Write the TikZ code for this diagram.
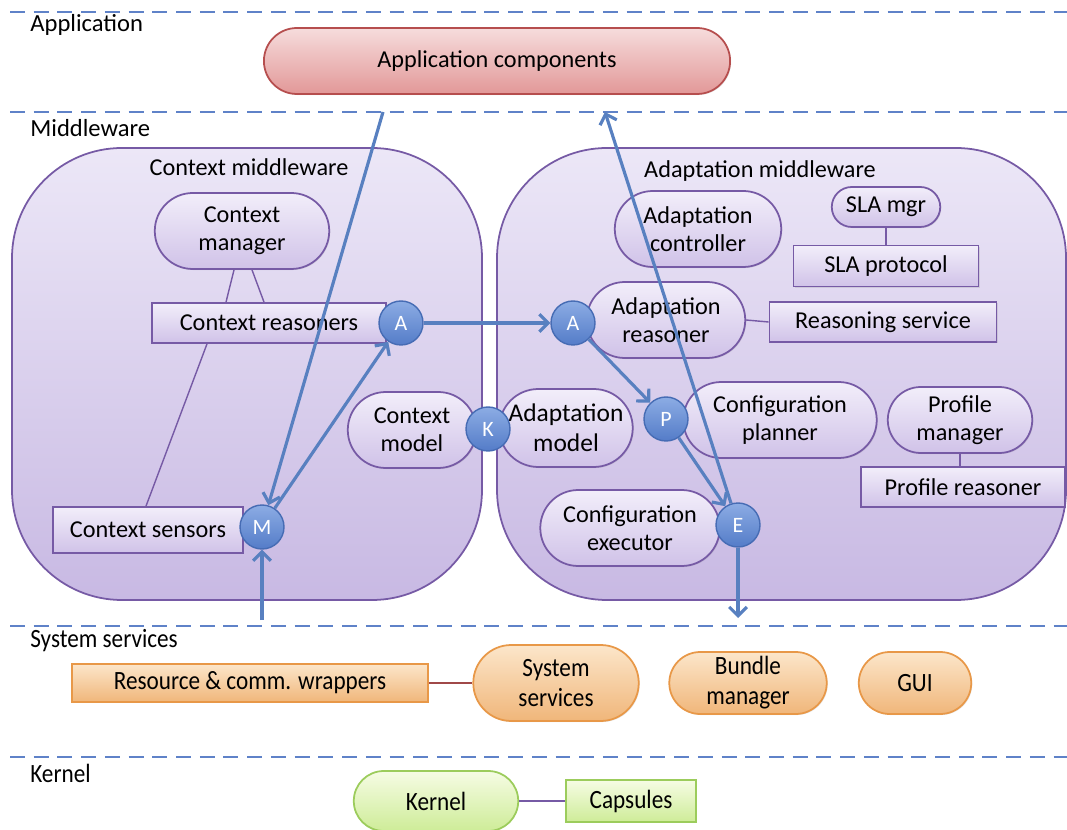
\documentclass[tikz,border=0pt]{standalone}
\usepackage{fontspec}
\setmainfont{Carlito}
\newfontfamily\narrowfont[FakeStretch=0.88]{Carlito}
\usetikzlibrary{shapes.misc,arrows.meta,shadows}

\definecolor{dashblue}{RGB}{95,130,200}
\definecolor{flowblue}{RGB}{88,128,192}
\definecolor{lilacline}{RGB}{118,90,165}
\definecolor{lilactop}{RGB}{242,238,250}
\definecolor{lilacbot}{RGB}{208,194,232}
\definecolor{areatop}{RGB}{236,231,247}
\definecolor{areabot}{RGB}{200,185,227}
\definecolor{balltop}{RGB}{140,172,228}
\definecolor{ballbot}{RGB}{84,124,200}
\definecolor{ballline}{RGB}{70,108,180}
\definecolor{pinktop}{RGB}{246,220,220}
\definecolor{pinkbot}{RGB}{226,152,152}
\definecolor{pinkline}{RGB}{182,78,78}
\definecolor{orangetop}{RGB}{252,230,202}
\definecolor{orangebot}{RGB}{240,182,122}
\definecolor{orangeline}{RGB}{232,152,72}
\definecolor{greentop}{RGB}{246,252,228}
\definecolor{greenbot}{RGB}{206,236,152}
\definecolor{greenline}{RGB}{156,204,92}
\definecolor{wireline}{RGB}{160,72,72}

\tikzset{
	txt/.style={font=\fontsize{13.8}{16}\selectfont},
	layer/.style={font=\fontsize{14}{16}\selectfont, anchor=west, inner sep=0pt},
	layerline/.style={dashblue, line width=1.2pt, dash pattern=on 8.5pt off 5pt},
	lilac/.style={txt, draw=lilacline, line width=1pt, top color=lilactop, bottom color=lilacbot,
		drop shadow={opacity=0.2, shadow xshift=0.6pt, shadow yshift=-0.6pt}},
	pill/.style={lilac, rounded rectangle, align=center, inner sep=1pt},
	box/.style={lilac, rectangle, inner sep=1pt},
	area/.style={draw=lilacline, line width=1pt, top color=areatop, bottom color=areabot, rounded corners=2.2cm},
	ball/.style={circle, draw=ballline, line width=0.8pt, top color=balltop, bottom color=ballbot,
		minimum size=0.88cm, inner sep=0pt, text=white, font=\fontsize{12.5}{14}\selectfont},
	flow/.style={flowblue, line width=1.8pt, -{Straight Barb[length=5pt,width=10pt,line width=1.8pt]}},
	thin/.style={lilacline, line width=0.8pt},
	sys/.style={draw=orangeline, line width=1pt, top color=orangetop, bottom color=orangebot,
		font=\narrowfont\fontsize{15}{17}\selectfont, align=center, inner sep=1pt,
		drop shadow={opacity=0.2, shadow xshift=0.6pt, shadow yshift=-0.6pt}},
	kern/.style={draw=greenline, line width=1pt, top color=greentop, bottom color=greenbot,
		font=\narrowfont\fontsize{15}{17}\selectfont, align=center, inner sep=1pt},
}

\begin{document}
\begin{tikzpicture}[x=0.02cm, y=-0.02cm]
	\useasboundingbox (0,0) rectangle (1067,830);

	\draw[layerline] (10,12) -- (1067,12);
	\draw[layerline] (10,112) -- (1067,112);
	\draw[layerline] (10,626) -- (1067,626);
	\draw[layerline] (10,757) -- (1067,757);

	\node[layer] (lapp) at (30,25) {Application};
	\node[layer] (lmid) at (30,128) {Middleware};
	\node[layer, font=\narrowfont\fontsize{15}{17}\selectfont] (lsys) at (30,641) {System services};
	\node[layer, font=\narrowfont\fontsize{15}{17}\selectfont] (lker) at (30,773) {Kernel};

	\node (appcomp) [txt, rounded rectangle, draw=pinkline, line width=1pt, top color=pinktop, bottom color=pinkbot,
		minimum width=9.56cm, minimum height=1.32cm,
		drop shadow={opacity=0.2, shadow xshift=0.6pt, shadow yshift=-0.6pt}] at (497,61) {Application components};

	\path[area] (12,148) rectangle (482,600);
	\path[area] (497,148) rectangle (1066,600);
	\node[txt] (ctxmw) at (249,167) {Context middleware};
	\node[txt] (adamw) at (760,171) {Adaptation middleware};

	\node (ctxmgr) [pill, minimum width=3.56cm, minimum height=1.52cm] at (242,231) {Context\\manager};
	\node (ctxreas) [box, minimum width=4.68cm, minimum height=0.8cm] at (269,323) {Context reasoners};
	\node (ctxsens) [box, minimum width=3.8cm, minimum height=0.92cm] at (148,530) {Context sensors};
	\node (ctxmodel) [pill, minimum width=2.64cm, minimum height=1.52cm] at (412,430) {Context\\model};
	\node (adamodel) [pill, minimum width=2.74cm, minimum height=1.56cm, font=\fontsize{14.5}{17}\selectfont] at (566,428) {Adaptation\\model};

	\node (adactrl) [pill, minimum width=3.4cm, minimum height=1.52cm] at (698,229) {Adaptation\\controller};
	\node (slamgr) [pill, minimum width=2.24cm, minimum height=0.8cm] at (886,207) {SLA mgr};
	\node (slaprot) [box, minimum width=3.7cm, minimum height=0.82cm] at (886,266) {SLA protocol};
	\node (adareas) [pill, minimum width=3.24cm, minimum height=1.52cm] at (666,320) {Adaptation\\reasoner};
	\node (reasserv) [box, minimum width=4.54cm, minimum height=0.8cm] at (883,322) {Reasoning service};
	\node (confplan) [pill, minimum width=3.94cm, minimum height=1.52cm] at (780,420) {Configuration\\planner};
	\node (profmgr) [pill, minimum width=2.96cm, minimum height=1.32cm] at (960,420) {Profile\\manager};
	\node (profreas) [box, minimum width=4.08cm, minimum height=0.8cm] at (963,487) {Profile reasoner};
	\node (confexec) [pill, minimum width=3.66cm, minimum height=1.52cm] at (630,528) {Configuration\\executor};

	\draw[thin] ([xshift=-0.16cm]ctxmgr.south) -- ([xshift=-0.86cm]ctxreas.north);
	\draw[thin] ([xshift=0.2cm]ctxmgr.south) -- ([xshift=-0.1cm]ctxreas.north);
	\draw[thin] ([xshift=-1.24cm]ctxreas.south) -- ([xshift=-0.04cm]ctxsens.north);
	\draw[thin] (slamgr.south) -- (slamgr.south |- slaprot.north);
	\draw[thin] (adareas.east) -- (reasserv.west);
	\draw[thin] (profmgr.south) -- (profmgr.south |- profreas.north);

	\node (ka) [ball] at (401,323) {A};
	\node (m) [ball] at (262,527) {M};
	\node (k) [ball] at (488,429) {K};
	\node (aa) [ball] at (573,323) {A};
	\node (p) [ball] at (666,419) {P};
	\node (e) [ball] at (738,525) {E};

	\coordinate (appdown) at (383,112);
	\coordinate (appup) at (605,112);
	\coordinate (sysup) at (262,620);
	\coordinate (sysdown) at (738,618);

	\draw[flow] (appdown) -- (m);
	\draw[flow] (sysup) -- (m);
	\draw[flow] (m) -- (ka);
	\draw[flow] (ka) -- (aa);
	\draw[flow] (aa) -- (p);
	\draw[flow] (p) -- (e);
	\draw[flow] (e) -- (appup);
	\draw[flow] (e) -- (sysdown);

	\node (wrap) [sys, minimum width=7.12cm, minimum height=0.76cm] at (250,683) {Resource \& comm. wrappers};
	\node (syssrv) [sys, rounded rectangle, minimum width=3.38cm, minimum height=1.52cm] at (556,683) {System\\services};
	\node (bundle) [sys, rounded rectangle, minimum width=3.22cm, minimum height=1.24cm] at (748,683) {Bundle\\manager};
	\node (gui) [sys, rounded rectangle, minimum width=2.32cm, minimum height=1.24cm] at (915,683) {GUI};
	\draw[wireline, line width=0.8pt] (wrap.east) -- (syssrv.west);

	\node (kernel) [kern, rounded rectangle, minimum width=3.36cm, minimum height=1.2cm] at (436,801) {Kernel};
	\node (caps) [kern, minimum width=2.6cm, minimum height=0.84cm] at (631,801) {Capsules};
	\draw[lilacline, line width=1pt] (kernel.east) -- (caps.west);
\end{tikzpicture}
\end{document}
